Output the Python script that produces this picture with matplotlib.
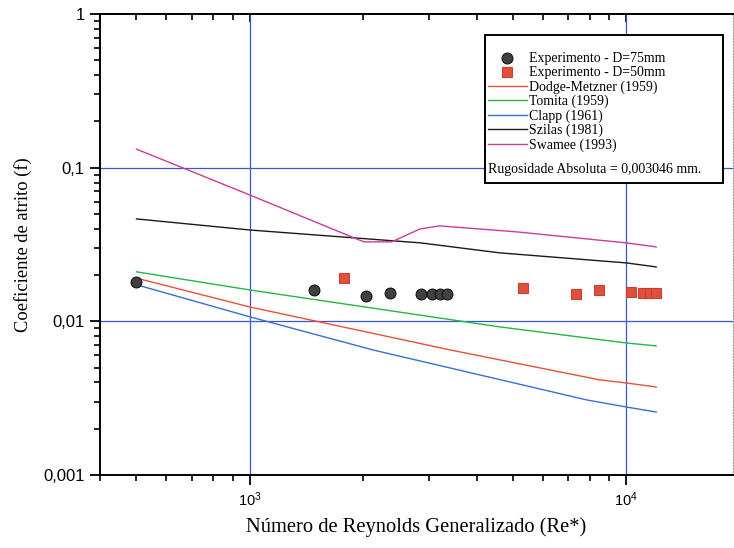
import math

import matplotlib
matplotlib.use("Agg")
import matplotlib.pyplot as plt
from matplotlib.patches import Rectangle
from matplotlib.ticker import LogLocator, FixedLocator, FuncFormatter, NullFormatter

# ------------------------------------------------------------------ data
exp75_re = [500, 1480, 2030, 2350, 2840, 3055, 3190, 3340]
exp75_f = [0.0180, 0.0160, 0.0146, 0.0153, 0.0151, 0.0151, 0.0151, 0.0151]

exp50_re = [1780, 5310, 7340, 8450, 10280, 11070, 11550, 11970]
exp50_f = [0.0191, 0.0165, 0.0151, 0.0160, 0.0155, 0.0153, 0.0153, 0.0153]

dodge_re = [500, 1000, 3400, 8500, 10000, 12000]
dodge_f = [0.0191, 0.0124, 0.00652, 0.00416, 0.00397, 0.00374]

tomita_re = [500, 1000, 4610, 10000, 12000]
tomita_f = [0.0210, 0.0160, 0.0092, 0.00723, 0.00692]

clapp_re = [500, 1000, 2120, 7850, 10000, 12000]
clapp_f = [0.0173, 0.0107, 0.00652, 0.00308, 0.00277, 0.00257]

szilas_re = [500, 1000, 2840, 4610, 10000, 12000]
szilas_f = [0.0464, 0.0393, 0.0324, 0.0279, 0.0240, 0.0226]

swamee_re = [500, 1000, 1920, 2010, 2380, 2830, 3190, 5120, 10000, 12000]
swamee_f = [0.132, 0.0664, 0.0344, 0.0329, 0.0329, 0.0399, 0.0418, 0.0382, 0.0324, 0.0305]

y_ticks = [0.001, 0.01, 0.1, 1]
y_ticklabels = ["0,001", "0,01", "0,1", "1"]
x_ticks = [1e3, 1e4]

serif = ["Liberation Serif", "DejaVu Serif"]
sans = ["Liberation Sans", "DejaVu Sans"]

fig = plt.figure(figsize=(7.34, 5.48), dpi=100)
ax = fig.add_axes([100 / 734, 73 / 548, 633 / 734, 461 / 548])
ax.set_xscale("log")
ax.set_yscale("log")
ax.set_xlim(400, 19200)
ax.set_ylim(0.001, 1)

grid_c = "#3858c8"
for v in x_ticks:
    ax.axvline(v, color=grid_c, lw=0.9, zorder=1)
for v in y_ticks[1:-1]:
    ax.axhline(v, color=grid_c, lw=0.9, zorder=1)

ax.plot(dodge_re, dodge_f, color="#e8503a", lw=1.0, label="Dodge-Metzner (1959)", zorder=2)
ax.plot(tomita_re, tomita_f, color="#22b843", lw=1.0, label="Tomita (1959)", zorder=2)
ax.plot(clapp_re, clapp_f, color="#3a6ed2", lw=1.0, label="Clapp (1961)", zorder=2)
ax.plot(szilas_re, szilas_f, color="#1a1a1a", lw=1.0, label="Szilas (1981)", zorder=2)
ax.plot(swamee_re, swamee_f, color="#cc3a9c", lw=1.0, label="Swamee (1993)", zorder=2)

ax.plot(exp75_re, exp75_f, ls="none", marker="o", ms=7.8,
        mfc="#404040", mec="#111111", mew=0.8, label="Experimento - D=75mm", zorder=3)
ax.plot(exp50_re, exp50_f, ls="none", marker="s", ms=6.8,
        mfc="#e0503c", mec="#c8402e", mew=0.8, label="Experimento - D=50mm", zorder=3)

# ticks: left and bottom outward
ax.yaxis.set_major_locator(FixedLocator(y_ticks))
ax.yaxis.set_major_formatter(FuncFormatter(lambda v, p: dict(zip(y_ticks, y_ticklabels)).get(v, "")))
ax.yaxis.set_minor_locator(LogLocator(base=10, subs=range(2, 10)))
ax.yaxis.set_minor_formatter(NullFormatter())
ax.xaxis.set_major_locator(FixedLocator(x_ticks))
ax.xaxis.set_major_formatter(FuncFormatter(lambda v, p: r"$\mathregular{10^{%d}}$" % round(math.log10(v))))
ax.xaxis.set_minor_locator(LogLocator(base=10, subs=range(2, 10)))
ax.xaxis.set_minor_formatter(NullFormatter())

ax.tick_params(axis="both", which="major", direction="out", length=7, width=1.3,
               top=False, right=False)
ax.tick_params(axis="both", which="minor", direction="out", length=4.5, width=1.2,
               top=False, right=False)
ax.tick_params(axis="y", labelsize=12, pad=4)
ax.tick_params(axis="x", labelsize=10.5, pad=4)
for lbl in ax.get_xticklabels() + ax.get_yticklabels():
    lbl.set_family(sans)

# top axis: ticks pointing into the plot, no labels
top = ax.secondary_xaxis("top")
top.xaxis.set_major_locator(FixedLocator(x_ticks))
top.xaxis.set_minor_locator(LogLocator(base=10, subs=range(2, 10)))
top.xaxis.set_major_formatter(NullFormatter())
top.xaxis.set_minor_formatter(NullFormatter())
top.tick_params(which="major", direction="in", length=6, width=1.3)
top.tick_params(which="minor", direction="in", length=4.5, width=1.2)
top.spines["top"].set_linewidth(1.4)

for s in ["left", "bottom", "top"]:
    ax.spines[s].set_linewidth(1.4)
ax.spines["right"].set_color("#9a9a9a")
ax.spines["right"].set_linestyle(":")
ax.spines["right"].set_linewidth(0.8)

ax.set_xlabel("Número de Reynolds Generalizado (Re*)", family=serif, fontsize=14.8, labelpad=6)
ax.set_ylabel("Coeficiente de atrito (f)", family=serif, fontsize=13.3, labelpad=8)

# legend frame drawn as a white box, legend entries on top of it
ax.add_patch(Rectangle((0.6082, 0.6334), 0.376, 0.321, transform=ax.transAxes,
                       facecolor="white", edgecolor="black", lw=1.4, zorder=4))

handles, labels = ax.get_legend_handles_labels()
order = [5, 6, 0, 1, 2, 3, 4]
leg = ax.legend([handles[i] for i in order], [labels[i] for i in order],
                loc="upper left", bbox_to_anchor=(0.613, 0.9167), borderaxespad=0,
                prop={"family": serif, "size": 10}, title="Rugosidade Absoluta = 0,003046 mm.",
                title_fontproperties={"family": serif, "size": 10},
                alignment="left", frameon=False,
                handlelength=2.8, handletextpad=0.15, labelspacing=0.074,
                borderpad=0)
leg.set_zorder(5)
# move the roughness note below the entries, with a small gap
box = leg._legend_box
box._children = [box._children[1], box._children[0]]
box.sep = 7.7

fig.savefig("out.png", dpi=100)
